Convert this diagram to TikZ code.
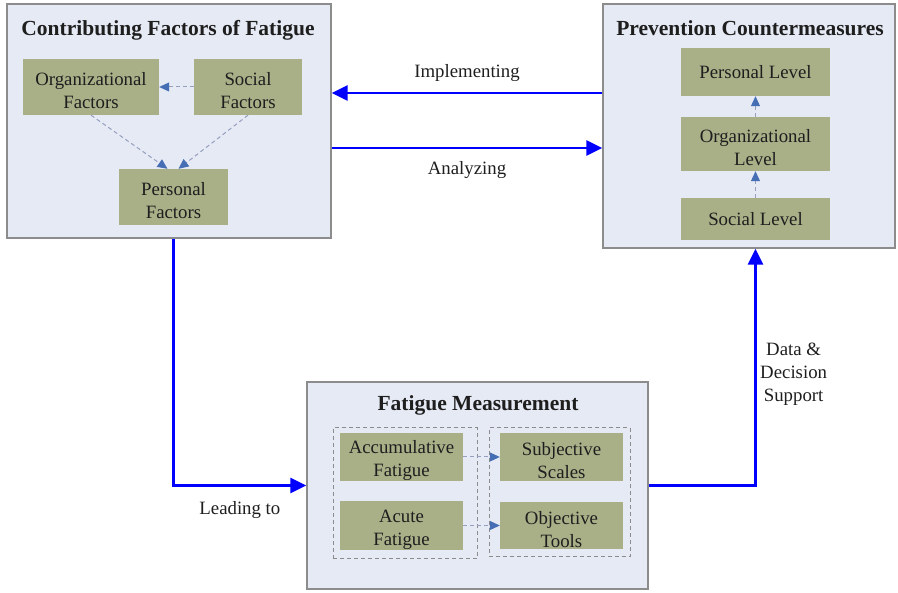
\documentclass[tikz,border=0pt]{standalone}
\usepackage{fontspec}
\setmainfont{Liberation Serif}
\usetikzlibrary{arrows.meta}

\definecolor{panelfill}{RGB}{230,234,245}
\definecolor{panelline}{RGB}{140,140,140}
\definecolor{boxfill}{RGB}{169,176,136}
\definecolor{dashline}{RGB}{150,160,190}
\definecolor{tipblue}{RGB}{70,110,180}
\definecolor{ink}{RGB}{30,30,30}
\newcommand{\pairstrut}{\rule{0pt}{21pt}}

\begin{document}
\begin{tikzpicture}[
    x=1pt, y=-1pt,
    node distance=72pt,
    every node/.style={font=\fontsize{18.8}{23}\selectfont, text=ink},
    panel/.style={rectangle, draw=panelline, line width=1.4pt, fill=panelfill},
    title/.style={font=\fontsize{21.5}{25}\selectfont\bfseries},
    box/.style={rectangle, fill=boxfill, inner sep=0pt, align=center, minimum width=149pt},
    group/.style={rectangle, draw=panelline, dash pattern=on 4pt off 3pt, line width=1pt},
    flow/.style={draw=blue, line width=2.8pt, -{Triangle[length=16pt,width=15pt]}},
    link/.style={draw=dashline, dash pattern=on 4pt off 3pt, line width=1pt, -{Triangle[length=10pt,width=9pt,color=tipblue]}}
]
\useasboundingbox (0,0) rectangle (898,593);

\node (factors) [panel, minimum width=324pt, minimum height=234pt] at (169,121) {};
\node (factorstitle) [title] at (168,30) {Contributing Factors of Fatigue};
\node (orgfac) [box, minimum width=136pt, minimum height=56pt] at (91,87) {\pairstrut Organizational\\Factors};
\node (socfac) [box, minimum width=108pt, minimum height=56pt] at (248,87) {\pairstrut Social\\Factors};
\node (perfac) [box, minimum width=109pt, minimum height=56pt] at (173.5,197) {\pairstrut Personal\\Factors};

\node (prevent) [panel, minimum width=292pt, minimum height=244pt] at (749,126) {};
\node (preventtitle) [title] at (750,28) {Prevention Countermeasures};
\node (perlvl) [box, minimum height=48pt] at (755.5,72) {Personal Level};
\node (orglvl) [box, minimum height=54pt, below of=perlvl] {\pairstrut Organizational\\Level};
\node (soclvl) [box, minimum height=42pt, node distance=75pt, below of=orglvl] {Social Level};

\node (measure) [panel, minimum width=341pt, minimum height=207pt] at (477.5,485.5) {};
\node (measuretitle) [title] at (478,405) {Fatigue Measurement};
\node (leftgroup) [group, minimum width=144pt, minimum height=131pt] at (405,493.5) {};
\node (rightgroup) [group, minimum width=141pt, minimum height=129pt] at (559.5,492.5) {};
\node (accum) [box, minimum width=123pt, minimum height=48pt] at (401.5,457) {\pairstrut Accumulative\\Fatigue};
\node (acute) [box, minimum width=123pt, minimum height=47pt, node distance=68.5pt, below of=accum] {\pairstrut Acute\\Fatigue};
\node (subj) [box, minimum width=123pt, minimum height=48pt, node distance=160pt, right of=accum] {\pairstrut Subjective\\Scales};
\node (obj) [box, minimum width=123pt, minimum height=47pt, node distance=160pt, right of=acute] {\pairstrut Objective\\Tools};

\draw[link] (socfac) -- (orgfac);
\draw[link] (orgfac.south) -- ([xshift=-6pt]perfac.north);
\draw[link] (socfac.south) -- ([xshift=5pt]perfac.north);
\draw[link] (soclvl) -- (orglvl);
\draw[link] (orglvl) -- (perlvl);
\draw[link] (accum) -- (subj);
\draw[link] (acute) -- (obj);

\coordinate (impl) at ([yshift=33pt]prevent.west);
\coordinate (anal) at ([yshift=-27pt]factors.east);
\draw[flow] (impl) -- node[above=6.5pt] {Implementing} (impl -| factors.east);
\draw[flow] (anal) -- node[below=9pt] {Analyzing} (anal -| prevent.west);
\draw[flow] (perfac |- factors.south) |- node[below=11pt, pos=0.75] {Leading to} (measure.west);
\draw[flow] (measure.east) -| node[right, pos=0.735, align=center] {Data \&\\Decision\\Support} (soclvl |- prevent.south);
\end{tikzpicture}
\end{document}
